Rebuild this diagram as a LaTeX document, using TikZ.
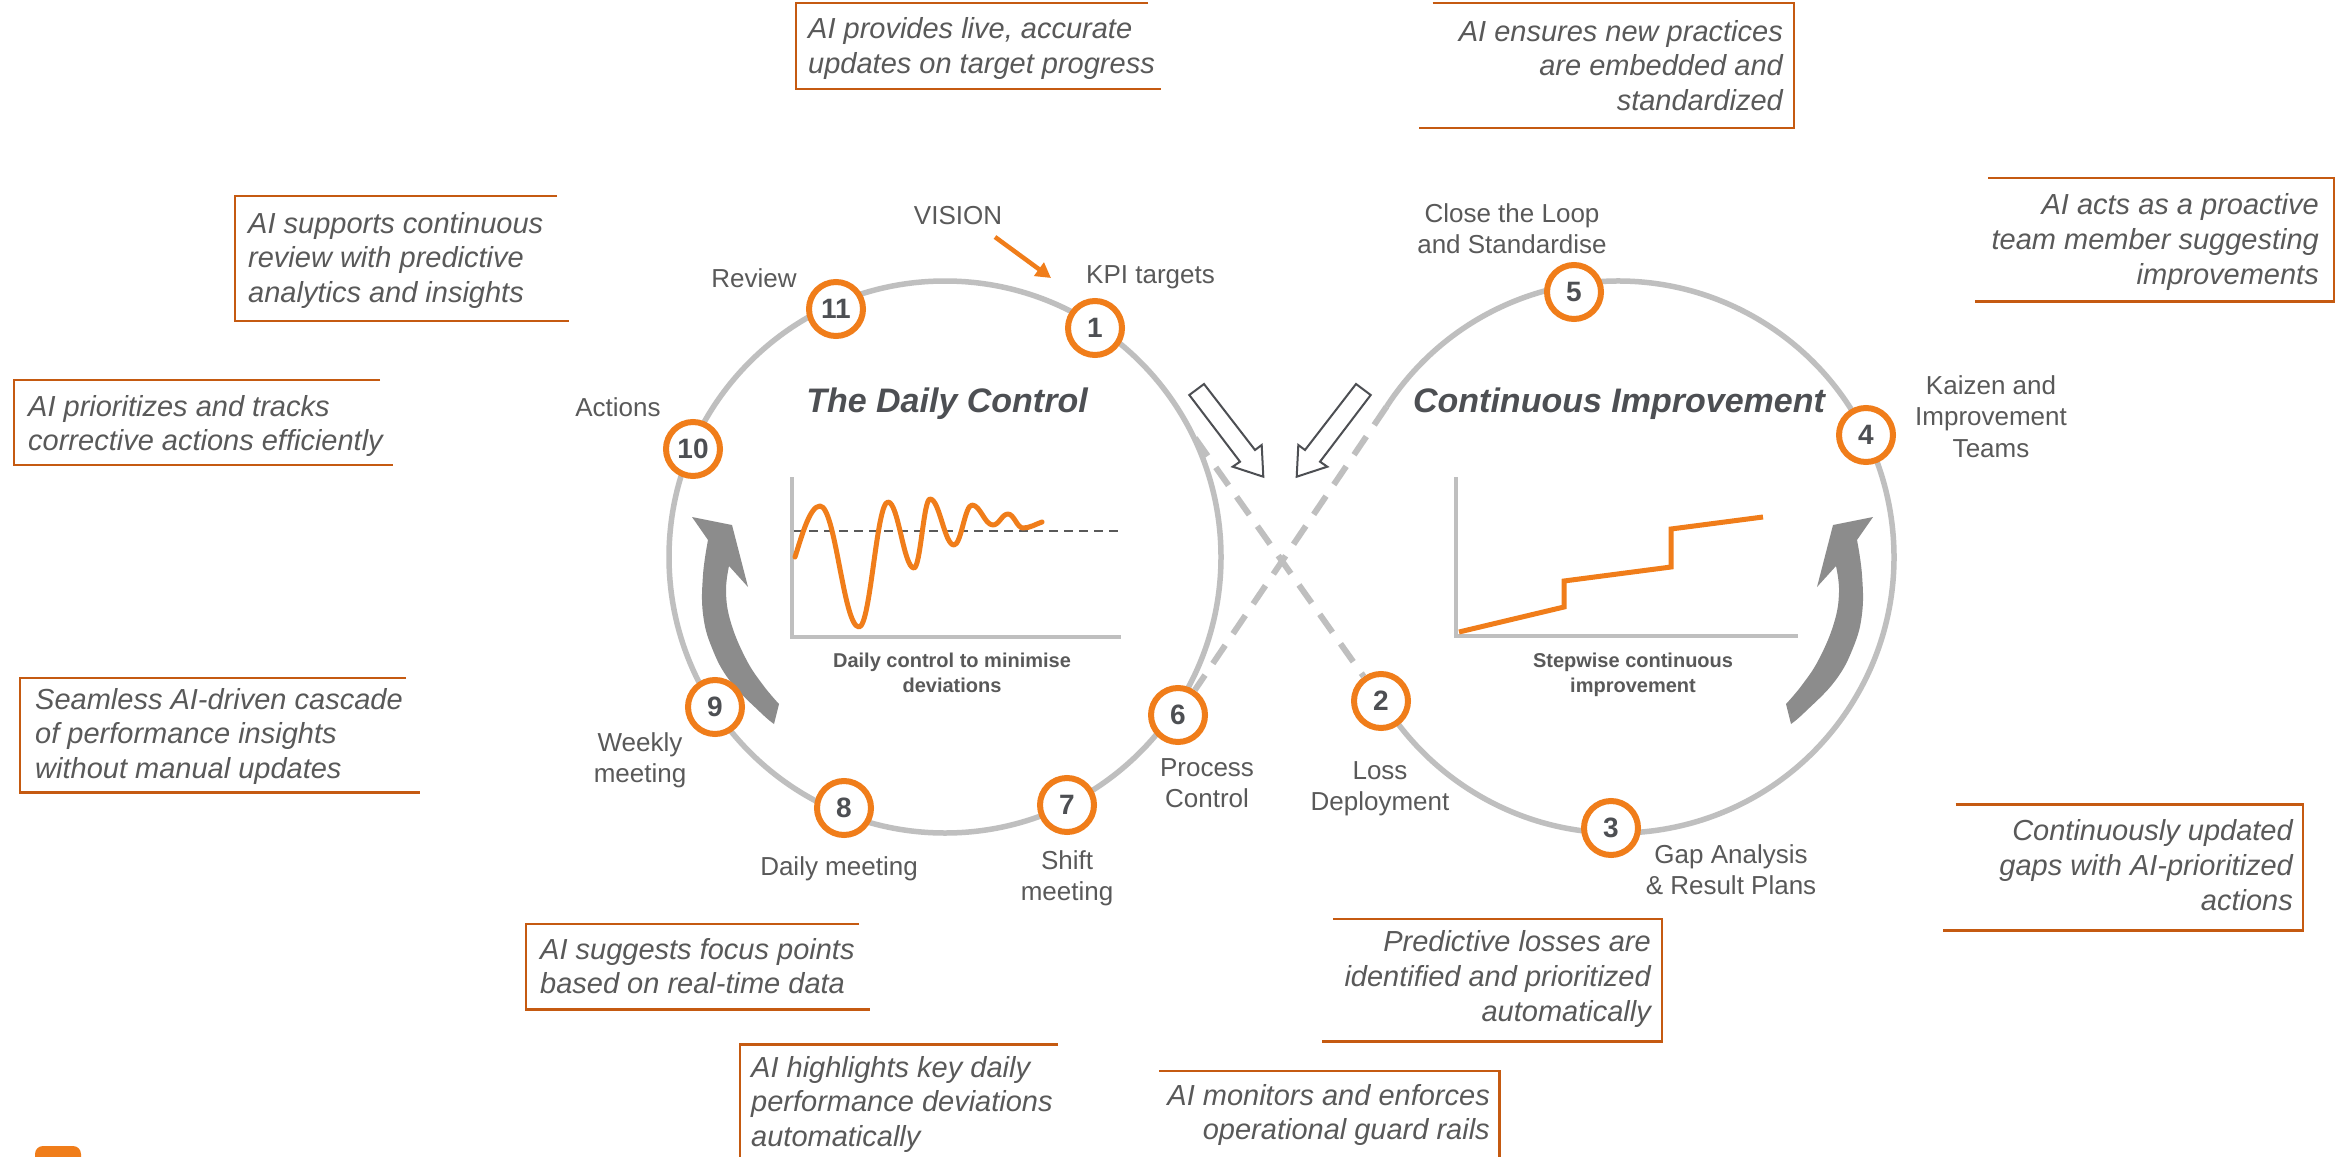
\documentclass[tikz,border=0pt]{standalone}
\usepackage{fontspec}
\setmainfont{Liberation Sans}
\usetikzlibrary{arrows.meta}
\definecolor{orng}{RGB}{240,125,26}
\definecolor{boxor}{RGB}{197,90,17}
\definecolor{ringgray}{RGB}{191,191,191}
\definecolor{txtgray}{RGB}{89,89,89}
\definecolor{darkg}{RGB}{77,79,83}
\definecolor{arrgray}{RGB}{140,140,140}
\newcommand{\curvedgrayarrow}{%
 \fill[arrgray] (774,724) -- plot[smooth, tension=0.7] coordinates {(774,724) (760,712) (730,681) (712,648) (703,614) (703,575) (708,540)} -- (692,517) -- (732,525) -- (748,587) -- (729,566) -- plot[smooth, tension=0.7] coordinates {(729,566) (726,592) (731,623) (746,659) (763,685) (779,704)} -- cycle;}
\begin{document}
\begin{tikzpicture}[x=1pt,y=-1pt,
 ring/.style={draw=ringgray, line width=5.5pt},
 crossdash/.style={draw=ringgray, line width=6pt, dash pattern=on 22pt off 14pt},
 axisline/.style={draw=ringgray, line width=4pt},
 curve/.style={draw=orng, line width=5pt, line cap=round, line join=round},
 badge/.style={circle, draw=orng, line width=6pt, fill=white, minimum size=54pt, inner sep=0pt, font=\fontsize{28}{30}\selectfont\bfseries, text=darkg},
 lbl/.style={font=\fontsize{26}{31.5}\selectfont, text=txtgray, align=center, inner sep=0pt},
 aitext/.style={font=\fontsize{29}{34.8}\selectfont\itshape, text=txtgray, inner sep=0pt},
 boxline/.style={draw=boxor, line width=2.5pt},
 ttl/.style={font=\fontsize{34}{40}\selectfont\bfseries\itshape, text=darkg, inner sep=0pt},
 capt/.style={font=\fontsize{20}{25}\selectfont\bfseries, text=txtgray, align=center, inner sep=0pt},
 hollow/.style={draw=darkg, line width=2pt, fill=white, line join=miter}]
\useasboundingbox (0,0) rectangle (2336,1156);
\fill[white] (0,0) rectangle (2336,1156);
\clip (0,0) rectangle (2336,1156);

% loops
\draw[ring] (945,557) circle[radius=276];
\draw[ring] (1386.5,406.7) arc[start angle=-147, end angle=149, radius=276];

% charts
\draw[axisline] (792,477) -- (792,637) -- (1121,637);
\draw[draw=txtgray, line width=2.5pt, dash pattern=on 9pt off 6pt] (794,531) -- (1118,531);
\draw[curve] (795,557) .. controls (802,535) and (810,506) .. (820,506)
 .. controls (835.6,506) and (843.4,627) .. (859,627)
 .. controls (870.6,627) and (876.4,502) .. (888,502)
 .. controls (898.4,502) and (903.6,568) .. (914,568)
 .. controls (920.4,568) and (923.6,499) .. (930,499)
 .. controls (939.6,499) and (944.4,545) .. (954,545)
 .. controls (961.2,545) and (964.8,505) .. (972,505)
 .. controls (980.4,505) and (984.6,525) .. (993,525)
 .. controls (999,525) and (1002,514) .. (1008,514)
 .. controls (1014,514) and (1017,528) .. (1023,528)
 .. controls (1030,528) and (1036,524) .. (1042,522);
\draw[axisline] (1456,477) -- (1456,636) -- (1798,636);
\draw[curve, line cap=butt, line join=miter] (1459,632) -- (1564,607) -- (1564,581) -- (1671,567) -- (1671,529) -- (1763,517);

% curved gray arrows
\curvedgrayarrow
\begin{scope}[xshift=2565pt, xscale=-1]
\curvedgrayarrow
\end{scope}

% hollow arrows
\draw[hollow] (1189.3,395) -- (1204,384) -- (1255,450) -- (1261.7,445) -- (1263.3,476.7) -- (1232.7,466.7) -- (1240,461.7) -- cycle;
\draw[hollow] (1370.7,395) -- (1356,384) -- (1305,450) -- (1298.3,445) -- (1296.7,476.7) -- (1327.3,466.7) -- (1320,461.7) -- cycle;

% badges
\node[badge] (b1) at (1095,328) {1};
\node[badge] (b11) at (836,309) {11};
\node[badge] (b10) at (693,449) {10};
\node[badge] (b9) at (715,707) {9};
\node[badge] (b8) at (844,808) {8};
\node[badge] (b7) at (1067,805) {7};
\node[badge] (b6) at (1178,715) {6};
\node[badge] (b5) at (1574,292) {5};
\node[badge] (b4) at (1866,435) {4};
\node[badge] (b3) at (1611,828) {3};
\node[badge] (b2) at (1381,701) {2};

% dashed crossing
\coordinate (lefttop) at (1195,438);
\coordinate (righttop) at (1386.5,406.7);
\draw[crossdash] (lefttop) -- (b2);
\draw[crossdash] (righttop) -- (b6);

% vision arrow
\node[lbl, anchor=base] (vision) at (958,224) {VISION};
\coordinate (visfrom) at (995,237);
\coordinate (visto) at (1051,278);
\draw[draw=orng, line width=4.5pt, -{Triangle[length=15pt,width=16pt]}] (visfrom) -- (visto);

% labels (base = last line)
\node[lbl, anchor=base west] (kpi) at (1086,283) {KPI targets};
\node[lbl, anchor=base] (review) at (754,287) {Review};
\node[lbl, anchor=base] (actions) at (618,416) {Actions};
\node[lbl, anchor=base] (weekly) at (640,782.5) {Weekly\\meeting};
\node[lbl, anchor=base] (dailym) at (839,875) {Daily meeting};
\node[lbl, anchor=base] (shift) at (1067,900.5) {Shift\\meeting};
\node[lbl, anchor=base] (process) at (1207,807.5) {Process\\Control};
\node[lbl, anchor=base] (loss) at (1380,810.5) {Loss\\Deployment};
\node[lbl, anchor=base] (gap) at (1731,894.5) {Gap Analysis\\\& Result Plans};
\node[lbl, anchor=base] (kaizen) at (1991,457) {Kaizen and\\Improvement\\Teams};
\node[lbl, anchor=base] (close) at (1512,253.5) {Close the Loop\\and Standardise};

% titles and captions
\node[ttl, anchor=base] (t1title) at (947,412) {The Daily Control};
\node[ttl, anchor=base] (t2title) at (1619,412) {Continuous Improvement};
\node[capt, anchor=base] (cap1) at (952,692) {Daily control to minimise\\deviations};
\node[capt, anchor=base] (cap2) at (1633,692) {Stepwise continuous\\improvement};

% AI boxes
\draw[boxline] (1148,3) -- (796,3) -- (796,89) -- (1161,89);
\node[aitext, align=left, anchor=base west] (ai1) at (808,73.8) {AI provides live, accurate\\updates on target progress};
\draw[boxline] (557,196) -- (235,196) -- (235,321) -- (569,321);
\node[aitext, align=left, anchor=base west] (ai2) at (248,302.6) {AI supports continuous\\review with predictive\\analytics and insights};
\draw[boxline] (380,380) -- (14,380) -- (14,465) -- (393,465);
\node[aitext, align=left, anchor=base west] (ai3) at (28,450.8) {AI prioritizes and tracks\\corrective actions efficiently};
\draw[boxline] (1432.5,3) -- (1794,3) -- (1794,128) -- (1419,128);
\node[aitext, align=right, anchor=base east] (ai4) at (1783,110.6) {AI ensures new practices\\are embedded and\\standardized};
\draw[boxline] (1988,178) -- (2334,178) -- (2334,301.5) -- (1975,301.5);
\node[aitext, align=right, anchor=base east] (ai5) at (2319,284.2) {AI acts as a proactive\\team member suggesting\\improvements};
\draw[boxline] (406,678) -- (20,678) -- (20,792.5) -- (419.5,792.5);
\node[aitext, align=left, anchor=base west] (ai6) at (35,778.6) {Seamless AI-driven cascade\\of performance insights\\without manual updates};
\draw[boxline] (859,924) -- (526,924) -- (526,1009.6) -- (870,1009.6);
\node[aitext, align=left, anchor=base west] (ai7) at (540,993.8) {AI suggests focus points\\based on real-time data};
\draw[boxline] (1058,1044.7) -- (740,1044.7) -- (740,1175);
\node[aitext, align=left, anchor=base west] (ai8) at (751,1146.6) {AI highlights key daily\\performance deviations\\automatically};
\draw[boxline] (1955.6,804.6) -- (2303,804.6) -- (2303,930.4) -- (1943,930.4);
\node[aitext, align=right, anchor=base east] (ai9) at (2293,910.1) {Continuously updated\\gaps with AI-prioritized\\actions};
\draw[boxline] (1333.4,919) -- (1662,919) -- (1662,1041.4) -- (1322,1041.4);
\node[aitext, align=right, anchor=base east] (ai10) at (1651,1021.1) {Predictive losses are\\identified and prioritized\\automatically};
\draw[boxline] (1159,1071) -- (1499.6,1071) -- (1499.6,1175);
\node[aitext, align=right, anchor=base east] (ai11) at (1490,1139.8) {AI monitors and enforces\\operational guard rails};

% corner mark
\fill[orng, rounded corners=8pt] (35,1146) rectangle (81,1176);
\end{tikzpicture}
\end{document}
